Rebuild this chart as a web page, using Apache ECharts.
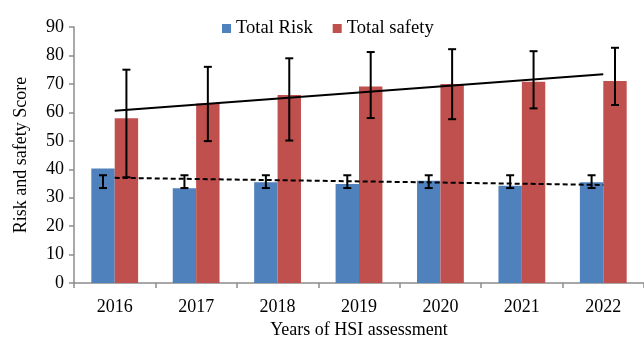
<!DOCTYPE html>
<html>
<head>
<meta charset="utf-8">
<script src="https://cdn.jsdelivr.net/npm/echarts@6/dist/echarts.min.js"></script>
<style>
  html, body { margin: 0; padding: 0; background: #fff; }
  #chart { width: 644px; height: 344px; }
</style>
</head>
<body>
<div id="chart"></div>
<script>
// Assessment years
const years = ['2016', '2017', '2018', '2019', '2020', '2021', '2022'];

// Mean scores per year
const totalRisk   = [40.3, 33.3, 35.4, 34.8, 36.0, 34.2, 35.4];
const totalSafety = [57.9, 63.1, 66.1, 69.1, 70.0, 70.8, 71.0];

// Error bar limits (lower / upper)
const riskLow    = [33.4, 33.4, 33.4, 33.4, 33.4, 33.4, 33.4];
const riskHigh   = [37.9, 37.9, 37.9, 37.9, 37.9, 37.9, 37.9];
const safetyLow  = [37.2, 49.9, 50.1, 58.0, 57.6, 61.4, 62.6];
const safetyHigh = [75.0, 76.0, 79.0, 81.2, 82.2, 81.5, 82.7];

// Linear trend values at the first and last year
const riskTrend   = [37.0, 34.5];
const safetyTrend = [60.6, 73.4];

const yTicks = { min: 0, max: 90, step: 10 };

const FONT = 'Liberation Serif';
const BAR_W = 23.4;
const CAP = 4;

function trendSeriesData(ends) {
  return years.map((_, i) => i === 0 ? ends[0] : (i === years.length - 1 ? ends[1] : null));
}

function errorData(low, high) {
  return years.map((_, i) => [i, low[i], high[i]]);
}

function errorRenderer(offset) {
  return function (params, api) {
    const top = api.coord([api.value(0), api.value(2)]);
    const bot = api.coord([api.value(0), api.value(1)]);
    const x = top[0] + offset;
    const style = { stroke: '#000', lineWidth: 2 };
    return {
      type: 'group',
      children: [
        { type: 'line', shape: { x1: x, y1: top[1], x2: x, y2: bot[1] }, style },
        { type: 'line', shape: { x1: x - CAP, y1: top[1], x2: x + CAP, y2: top[1] }, style },
        { type: 'line', shape: { x1: x - CAP, y1: bot[1], x2: x + CAP, y2: bot[1] }, style }
      ]
    };
  };
}

const chart = echarts.init(document.getElementById('chart'), null, { renderer: 'canvas' });

chart.setOption({
  animation: false,
  backgroundColor: '#fff',
  textStyle: { fontFamily: FONT, color: '#000' },
  legend: {
    left: 217,
    top: 14,
    itemWidth: 9,
    itemHeight: 9,
    itemGap: 20,
    icon: 'rect',
    textStyle: { fontFamily: FONT, fontSize: 18.6, color: '#000' },
    data: ['Total Risk', 'Total safety']
  },
  grid: { left: 74, top: 27, bottom: 57, right: -4.7, containLabel: false },
  xAxis: {
    type: 'category',
    data: years,
    name: 'Years of HSI assessment',
    nameLocation: 'middle',
    nameGap: 32,
    nameTextStyle: { fontFamily: FONT, fontSize: 18, color: '#000' },
    axisLine: { lineStyle: { color: '#8c8c8c', width: 1.5 } },
    axisTick: { show: true, length: 5, lineStyle: { color: '#8c8c8c', width: 1.5 } },
    axisLabel: { fontFamily: FONT, fontSize: 18, color: '#000', margin: 15 },
    splitLine: { show: false }
  },
  yAxis: {
    type: 'value',
    min: yTicks.min,
    max: yTicks.max,
    interval: yTicks.step,
    name: 'Risk and safety Score',
    nameLocation: 'middle',
    nameGap: 44,
    nameRotate: 90,
    nameTextStyle: { fontFamily: FONT, fontSize: 18, color: '#000' },
    axisLine: { show: true, lineStyle: { color: '#8c8c8c', width: 1.5 } },
    axisTick: { show: true, length: 5, lineStyle: { color: '#8c8c8c', width: 1.5 } },
    axisLabel: { fontFamily: FONT, fontSize: 18, color: '#000', margin: 10 },
    splitLine: { show: false }
  },
  series: [
    {
      name: 'Total Risk',
      type: 'bar',
      data: totalRisk,
      barWidth: BAR_W,
      barGap: '0%',
      itemStyle: { color: '#4F81BD' },
      z: 2
    },
    {
      name: 'Total safety',
      type: 'bar',
      data: totalSafety,
      barWidth: BAR_W,
      barGap: '0%',
      itemStyle: { color: '#C0504D' },
      z: 2
    },
    {
      name: 'risk-trend',
      type: 'line',
      data: trendSeriesData(riskTrend),
      connectNulls: true,
      symbol: 'none',
      lineStyle: { color: '#000', width: 2, type: [5, 3] },
      z: 4
    },
    {
      name: 'safety-trend',
      type: 'line',
      data: trendSeriesData(safetyTrend),
      connectNulls: true,
      symbol: 'none',
      lineStyle: { color: '#000', width: 2 },
      z: 4
    },
    {
      name: 'risk-error',
      type: 'custom',
      data: errorData(riskLow, riskHigh),
      encode: { x: 0, y: [1, 2] },
      renderItem: errorRenderer(-BAR_W / 2),
      z: 5
    },
    {
      name: 'safety-error',
      type: 'custom',
      data: errorData(safetyLow, safetyHigh),
      encode: { x: 0, y: [1, 2] },
      renderItem: errorRenderer(BAR_W / 2),
      z: 5
    }
  ]
});
</script>
</body>
</html>
